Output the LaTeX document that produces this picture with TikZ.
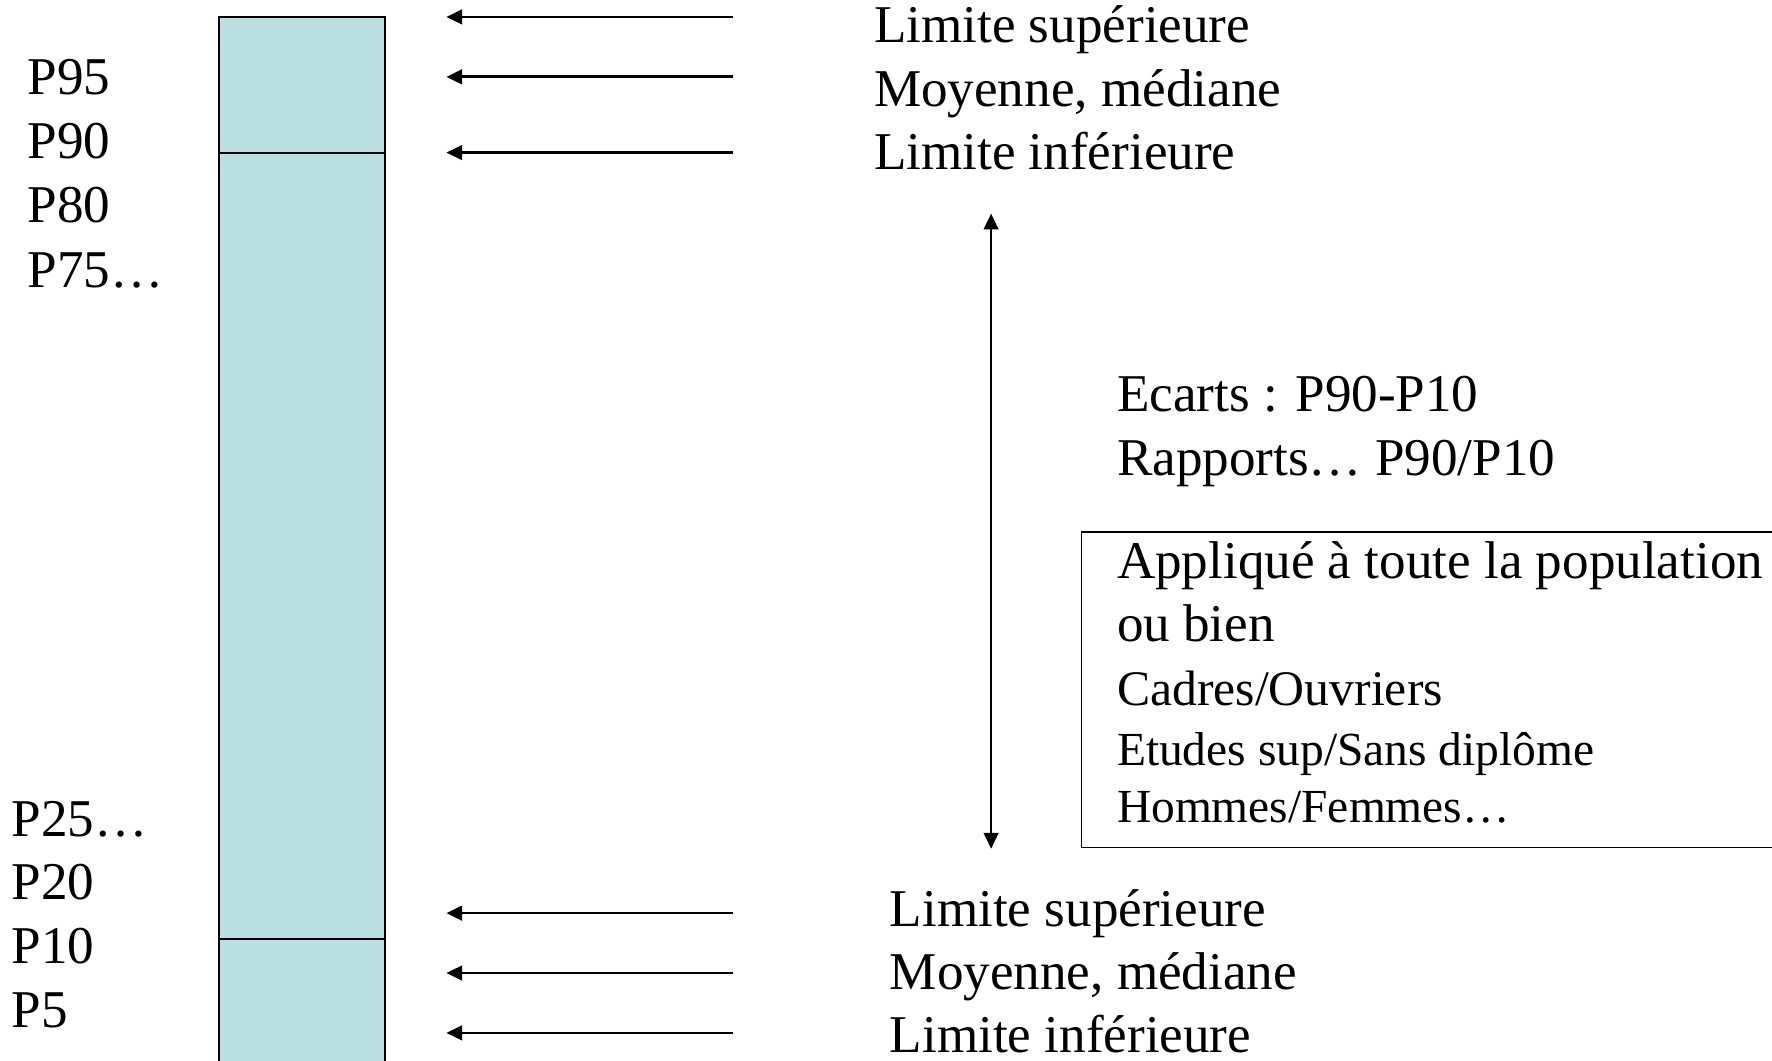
\documentclass[tikz,border=0pt]{standalone}
\usepackage{fontspec}
\setmainfont{Liberation Serif}
\usetikzlibrary{arrows.meta}
\definecolor{barblue}{HTML}{BBE0E3}
\tikzset{
  lbl/.style={anchor=base west, inner sep=0pt, font=\fontsize{23.5}{28}\selectfont},
  smalllbl/.style={anchor=base west, inner sep=0pt, font=\fontsize{21}{25}\selectfont},
  midlbl/.style={anchor=base west, inner sep=0pt, font=\fontsize{22}{26}\selectfont},
  pointer/.style={line width=1.2pt, -{Triangle[length=7pt,width=6.5pt]}},
  span/.style={line width=0.9pt, {Triangle[length=7pt,width=6.5pt]}-{Triangle[length=7pt,width=6.5pt]}},
  barpart/.style={draw, fill=barblue, line width=0.9pt},
}
\begin{document}
\begin{tikzpicture}[x=0.5pt,y=-0.5pt]
\useasboundingbox (0,0) rectangle (1568,938);
\clip (0,0) rectangle (1568,938);
% bar
\draw[barpart] (194,15) rectangle (341,135);
\draw[barpart] (194,135) rectangle (341,831);
\draw[barpart] (194,831) rectangle (341,960);
% left labels
\node[lbl] (p95) at (24,84) {P95};
\node[lbl] (p90) at (24,140) {P90};
\node[lbl] (p80) at (24,197) {P80};
\node[lbl] (p75) at (24,254) {P75…};
\node[lbl] (p25) at (10,740) {P25…};
\node[lbl] (p20) at (10,796) {P20};
\node[lbl] (p10) at (10,853) {P10};
\node[lbl] (p5) at (10,909) {P5};
% arrows
\coordinate (s1) at (649,15);  \coordinate (e1) at (395,15);
\coordinate (s2) at (649,68);  \coordinate (e2) at (395,68);
\coordinate (s3) at (649,135); \coordinate (e3) at (395,135);
\coordinate (s4) at (649,808); \coordinate (e4) at (395,808);
\coordinate (s5) at (649,861); \coordinate (e5) at (395,861);
\coordinate (s6) at (649,914); \coordinate (e6) at (395,914);
\foreach \i in {1,...,6} {\draw[pointer] (s\i) -- (e\i);}
% right labels top
\node[lbl] (ls1) at (773,38) {Limite supérieure};
\node[lbl] (mm1) at (773,94) {Moyenne, médiane};
\node[lbl] (li1) at (773,150) {Limite inférieure};
% right labels bottom
\node[lbl] (ls2) at (787,820) {Limite supérieure};
\node[lbl] (mm2) at (787,876) {Moyenne, médiane};
\node[lbl] (li2) at (787,931) {Limite inférieure};
% double arrow
\coordinate (vt) at (877,189);
\coordinate (vb) at (877,751);
\draw[span] (vt) -- (vb);
% middle texts
\node[lbl] (ec) at (988,364) {Ecarts : P90-P10};
\node[lbl] (ra) at (988,421) {Rapports… P90/P10};
% box
\draw[line width=0.8pt] (1575,471) -- (957,471) -- (957,750) -- (1575,750);
\node[lbl] (ap) at (988,512) {Appliqué à toute la population};
\node[lbl] (ob) at (988,568) {ou bien};
\node[midlbl] (co) at (988,624) {Cadres/Ouvriers};
\node[smalllbl] (es) at (988,677) {Etudes sup/Sans diplôme};
\node[smalllbl] (hf) at (988,728) {Hommes/Femmes…};
\end{tikzpicture}
\end{document}
